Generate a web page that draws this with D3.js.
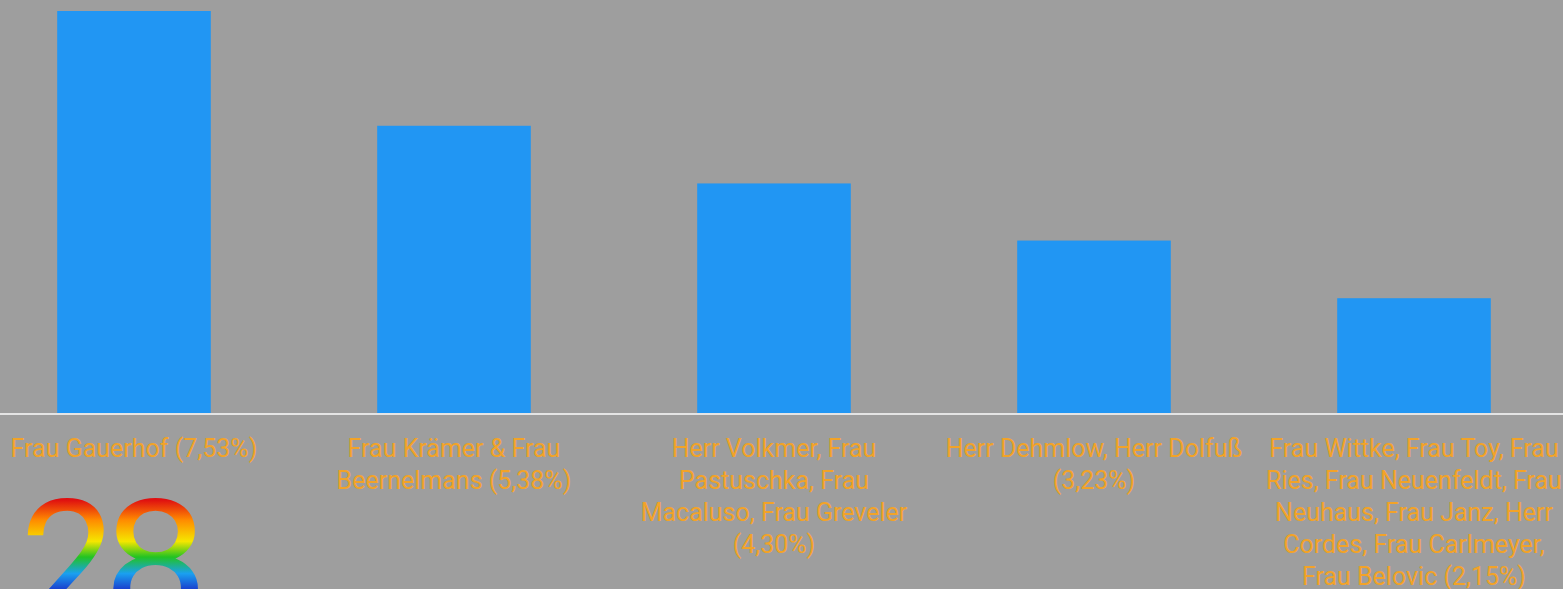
<!DOCTYPE html>
<head>
  <meta charset="utf-8">
  <script src="https://d3js.org/d3.v7.min.js"></script>
  <style>
    body { margin:0; padding:0; background:#9e9e9e; overflow:hidden; }
    .lbl { font-family: Roboto, "Noto Sans", sans-serif; font-size:25px; fill:#f2a328; }
  </style>
</head>
<body>
  <script>
    var width = 1563, height = 589;

    // data
    var names = [
      "Frau Gauerhof",
      "Frau Krämer & Frau Beernelmans",
      "Herr Volkmer, Frau Pastuschka, Frau Macaluso, Frau Greveler",
      "Herr Dehmlow, Herr Dolfuß",
      "Frau Wittke, Frau Toy, Frau Ries, Frau Neuenfeldt, Frau Neuhaus, Frau Janz, Herr Cordes, Frau Carlmeyer, Frau Belovic"
    ];
    var shares = [7.53, 5.38, 4.30, 3.23, 2.15];
    var pctLabels = ["7,53%", "5,38%", "4,30%", "3,23%", "2,15%"];
    var badge = "28";

    var baseY = 413;

    var svg = d3.select("body").append("svg")
      .attr("width", width)
      .attr("height", height);

    var x = d3.scaleBand()
      .domain(names)
      .range([-26, 1574])
      .paddingInner(0.52)
      .paddingOuter(0.26);

    var y = d3.scaleLinear()
      .domain([0, 7.53])
      .range([baseY, 11]);

    svg.append("g").selectAll("rect")
      .data(names)
      .enter().append("rect")
      .attr("x", function(d) { return x(d); })
      .attr("y", function(d, i) { return y(shares[i]); })
      .attr("width", x.bandwidth())
      .attr("height", function(d, i) { return baseY - y(shares[i]); })
      .attr("fill", "#2196f3");

    // baseline
    svg.append("line")
      .attr("x1", 0).attr("x2", width)
      .attr("y1", baseY + 1).attr("y2", baseY + 1)
      .attr("stroke", "#e4e4e4")
      .attr("stroke-width", 2);

    // labels, wrapped to the band step
    var labels = svg.append("g").selectAll("text")
      .data(names)
      .enter().append("text")
      .attr("class", "lbl")
      .attr("text-anchor", "middle")
      .attr("x", function(d) { return x(d) + x.bandwidth() / 2; })
      .attr("y", 457)
      .text(function(d, i) { return d + " (" + pctLabels[i] + ")"; });

    labels.each(function() { wrap(d3.select(this), 298); });

    function wrap(text, w) {
      var words = text.text().split(/\s+/), line = [], n = 0,
          cx = text.attr("x"), y0 = +text.attr("y");
      text.text(null);
      var tspan = text.append("tspan").attr("x", cx).attr("y", y0);
      words.forEach(function(word) {
        line.push(word);
        tspan.text(line.join(" "));
        if (tspan.node().getComputedTextLength() > w && line.length > 1) {
          line.pop();
          tspan.text(line.join(" "));
          line = [word];
          n++;
          tspan = text.append("tspan").attr("x", cx).attr("y", y0 + n * 32).text(word);
        }
      });
    }

    // rainbow badge bottom-left (gradient is in the digit's own coords, baseline = 0)
    var grad = svg.append("defs").append("linearGradient")
      .attr("id", "rainbow")
      .attr("gradientUnits", "userSpaceOnUse")
      .attr("x1", 0).attr("x2", 0).attr("y1", -121).attr("y2", -29);
    [["0", "#e01010"], ["0.22", "#ff8c00"], ["0.45", "#f5e600"], ["0.62", "#22c322"],
     ["0.8", "#1aa0f0"], ["1", "#1a2fc8"]].forEach(function(s) {
      grad.append("stop").attr("offset", s[0]).attr("stop-color", s[1]);
    });

    // each digit placed on its own; the second one is drawn a little wider
    var digitX = [20, 103], digitScale = [1, 1.1];
    svg.append("g").selectAll("text")
      .data(badge.split(""))
      .enter().append("text")
      .attr("transform", function(d, i) { return "translate(" + digitX[i] + ",621) scale(" + digitScale[i] + ",1)"; })
      .attr("font-family", "Roboto, sans-serif")
      .attr("font-size", 170)
      .attr("fill", "url(#rainbow)")
      .text(function(d) { return d; });
  </script>
</body>
